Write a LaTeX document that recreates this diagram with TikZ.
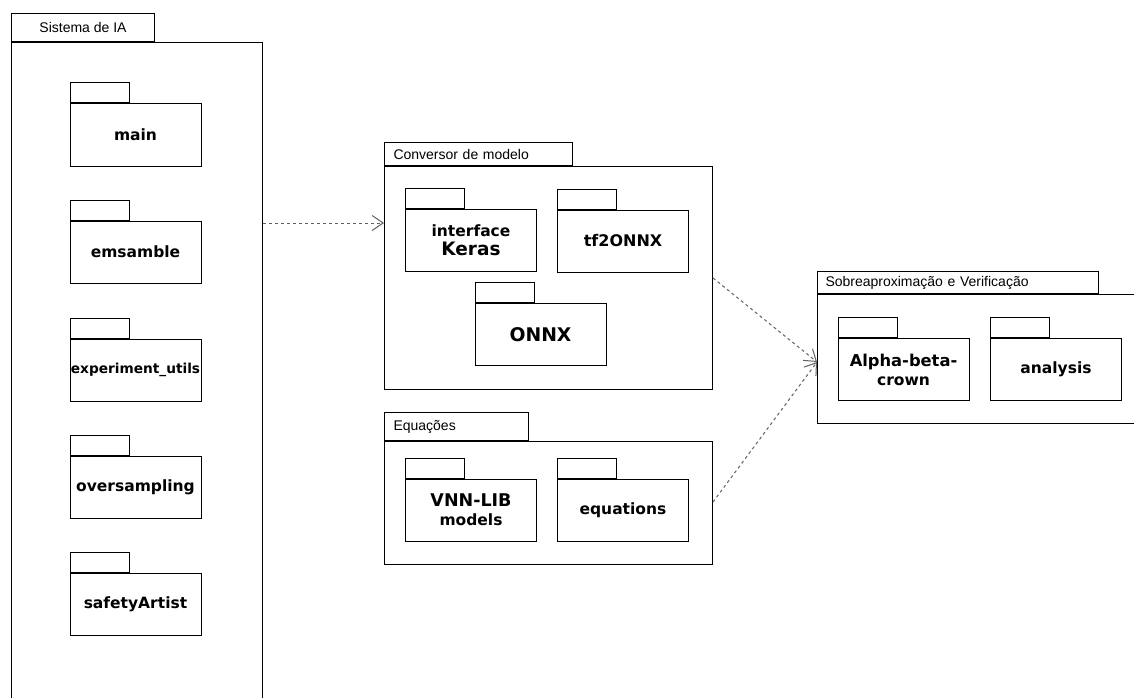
\documentclass[tikz,border=0pt]{standalone}
\usepackage{fontspec}
\setmainfont{Liberation Sans}
\newfontfamily\pkgfont{DejaVu Sans}
\usetikzlibrary{arrows.meta,calc}

\tikzset{
  pkgline/.style={draw=black, line width=1pt},
  outerbody/.style={pkgline, rectangle, inner sep=0pt, anchor=north west},
  outertab/.style={pkgline, rectangle, inner sep=0pt, anchor=south west,
    font=\fontsize{14}{16}\selectfont, text=black},
  innerbody/.style={pkgline, rectangle, inner sep=0pt, align=center,
    minimum width=131pt, minimum height=62pt,
    font=\pkgfont\bfseries\fontsize{15.5}{20}\selectfont},
  innertab/.style={pkgline, rectangle, inner sep=0pt, anchor=south west,
    minimum width=59pt, minimum height=20pt},
  dep/.style={draw=black!62, line width=1pt, dash pattern=on 3pt off 3pt,
    -{Straight Barb[length=11pt,width=15pt,line width=1pt]}},
}

% an inner package: body node plus its tab
\newcommand{\innerpkg}[3]{%
  \node[innerbody] (#1) at (#2) {#3};
  \node[innertab] (#1-tab) at (#1.north west) {};
}

\begin{document}
\begin{tikzpicture}[x=1pt, y=-1pt]
\useasboundingbox (0,0) rectangle (1134,698);
\clip (0,0) rectangle (1134,698);
\fill[white] (0,0) rectangle (1134,698);

% ---- Sistema de IA ----
\node[outerbody, minimum width=251pt, minimum height=690pt] (sis) at (11,42) {};
\node[outertab, minimum width=143pt, minimum height=28pt] (sis-tab) at (sis.north west) {Sistema de IA};

\innerpkg{main}{135.5,135}{main}
\innerpkg{ens}{135.5,252}{emsamble}
\innerpkg{exp}{135.5,370}{\fontsize{13.7}{16}\selectfont experiment\_utils}
\innerpkg{ovs}{135.5,487}{oversampling}
\innerpkg{saf}{135.5,604}{safetyArtist}

% ---- Conversor de modelo ----
\node[outerbody, minimum width=328pt, minimum height=223pt] (conv) at (384,166) {};
\node[outertab, minimum width=188pt, minimum height=23pt, text width=170pt,
      align=left, inner xsep=9pt] (conv-tab) at (conv.north west) {Conversor de modelo};

\innerpkg{keras}{471,240}{interface\\[-1pt]{\fontsize{18.5}{20}\selectfont Keras}}
\innerpkg{tf}{623,241}{\fontsize{16}{20}\selectfont tf2ONNX}
\innerpkg{onnx}{540.5,334.5}{\fontsize{18.8}{20}\selectfont ONNX}

% ---- Equações ----
\node[outerbody, minimum width=328pt, minimum height=123pt] (equ) at (384,441) {};
\node[outertab, minimum width=144pt, minimum height=28pt, text width=126pt,
      align=left, inner xsep=9pt] (equ-tab) at (equ.north west) {Equações};

\innerpkg{vnn}{471,510}{{\fontsize{17.5}{20}\selectfont VNN-LIB}\\[-1pt]models}
\innerpkg{eqs}{623,510}{equations}

% ---- Sobreaproximação e Verificação ----
\node[outerbody, minimum width=340pt, minimum height=129pt] (sob) at (817,294) {};
\node[outertab, minimum width=281pt, minimum height=22pt, text width=265pt,
      align=left, inner xsep=8pt] (sob-tab) at (sob.north west) {Sobreaproximação e Verificação};

\innerpkg{abc}{903.5,369.5}{{\fontsize{16.3}{20}\selectfont Alpha-beta-}\\[-1pt]crown}
\innerpkg{ana}{1056,369.5}{analysis}

% ---- dependencies ----
\draw[dep] ([yshift=-181pt]sis.north east) -- ([yshift=-57pt]conv.north west);
\draw[dep] ([yshift=-112pt]conv.north east) -- ([yshift=-68pt]sob.north west);
\draw[dep] ([yshift=-61pt]equ.north east) -- ([yshift=-68pt]sob.north west);
\end{tikzpicture}
\end{document}
